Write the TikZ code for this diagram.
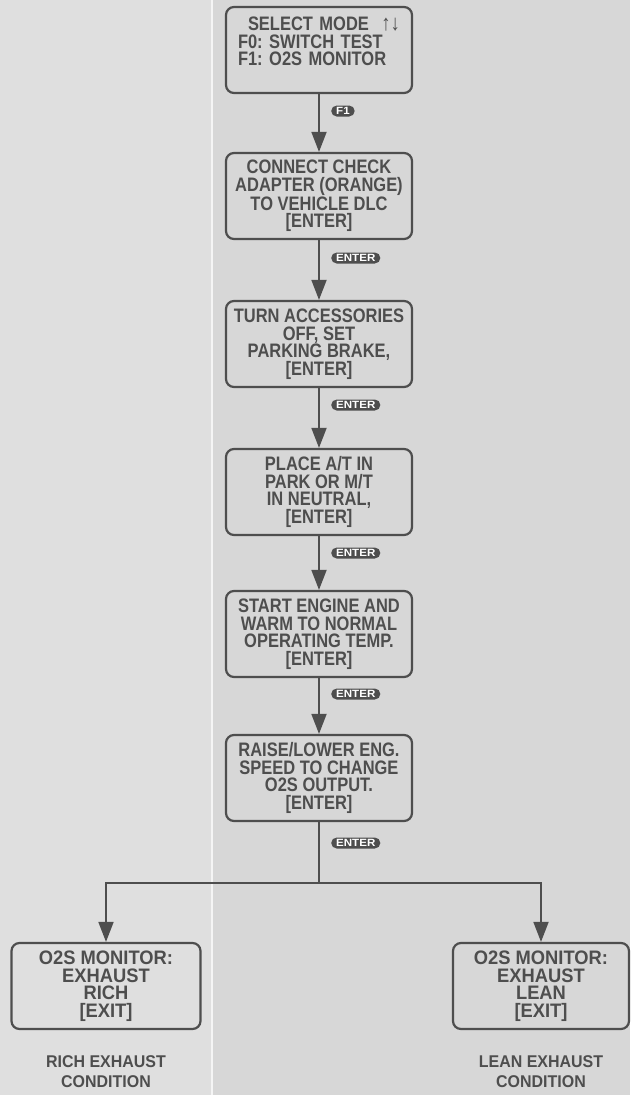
\documentclass[tikz,border=0pt]{standalone}
\usepackage{fontspec}
\setmainfont{Liberation Sans}[FakeStretch=0.845]
\newfontfamily\widefont{Liberation Sans}[FakeStretch=0.94]
\newfontfamily\keyfont{Liberation Sans}[FakeStretch=1.1]
\usepackage{tikz}
\usetikzlibrary{arrows.meta,positioning}
\definecolor{pagegray}{HTML}{D7D7D7}
\definecolor{stripgray}{HTML}{DFDFDF}
\definecolor{inkgray}{HTML}{4E4E4E}
\frenchspacing

\begin{document}
\begin{tikzpicture}[x=1pt,y=-1pt,
	screen/.style={draw=inkgray, line width=2.2pt, rounded corners=8pt,
		minimum width=186pt, minimum height=86pt, inner sep=2pt, align=center,
		text=inkgray, font=\fontsize{19.5}{17.5}\selectfont\bfseries},
	result/.style={screen, minimum width=189pt,
		font=\widefont\fontsize{19.5}{17.5}\selectfont\bfseries},
	keycap/.style={fill=inkgray, text=white, rounded corners=5.5pt,
		minimum height=11pt, minimum width=20pt, inner xsep=5pt, inner ysep=0pt,
		font=\keyfont\fontsize{10.5}{10.5}\selectfont\bfseries, anchor=west},
	link/.style={draw=inkgray, line width=1.8pt},
	flow/.style={link, -{Triangle[length=20pt,width=15pt]}},
	caption/.style={align=center, text=inkgray,
		font=\widefont\fontsize{17}{20}\selectfont\bfseries}]
	\useasboundingbox (0,0) rectangle (630,1095);
	
	% Page background
	\fill[pagegray] (0,0) rectangle (630,1095);
	\fill[stripgray] (0,0) rectangle (211,1095);
	\draw[white!70!stripgray, line width=1.5pt] (212,0) -- (212,1095);
	
	% Screens of the main column
	\node[screen, text width=162pt, align=left, inner xsep=12pt] (mode) at (319,50)
	{\hspace*{10pt}SELECT MODE\hfill{\mdseries\fontsize{22}{17.5}\selectfont ↑↓}\\F0: SWITCH TEST\\F1: O2S MONITOR\\[-6pt]\strut};
	\node[screen] (adapter) at (319,196) {CONNECT CHECK\\ADAPTER (ORANGE)\\TO VEHICLE DLC\\{[ENTER]}};
	\node[screen] (brake) at (319,344) {TURN ACCESSORIES\\OFF, SET\\PARKING BRAKE,\\{[ENTER]}};
	\node[screen] (neutral) at (319,492) {PLACE A/T IN\\PARK OR M/T\\IN NEUTRAL,\\{[ENTER]}};
	\node[screen] (warm) at (319,634) {START ENGINE AND\\WARM TO NORMAL\\OPERATING TEMP.\\{[ENTER]}};
	\node[screen] (speed) at (319,778) {RAISE/LOWER ENG.\\SPEED TO CHANGE\\O2S OUTPUT.\\{[ENTER]}};
	
	% Result screens
	\node[result] (rich) at (106,986) {O2S MONITOR:\\EXHAUST\\RICH\\{[EXIT]}};
	\node[result, minimum width=176pt] (lean) at (541,986) {O2S MONITOR:\\EXHAUST\\LEAN\\{[EXIT]}};
	\node[caption, below=22pt of rich] (richtxt) {RICH EXHAUST\\CONDITION};
	\node[caption, below=22pt of lean] (leantxt) {LEAN EXHAUST\\CONDITION};
	
	% Connectors
	\draw[flow] (mode) -- (adapter);
	\draw[flow] (adapter) -- (brake);
	\draw[flow] (brake) -- (neutral);
	\draw[flow] (neutral) -- (warm);
	\draw[flow] (warm) -- (speed);
	\coordinate (split) at (319,883);
	\draw[link] (speed) -- (split);
	\draw[flow] (split) -| (rich.north);
	\draw[flow] (split) -| (lean.north);
	
	% Key presses
	\node[keycap] (kf1) at (331,111) {F1};
	\node[keycap] (k1) at (331,258) {ENTER};
	\node[keycap] (k2) at (331,405) {ENTER};
	\node[keycap] (k3) at (331,553) {ENTER};
	\node[keycap] (k4) at (331,694) {ENTER};
	\node[keycap] (k5) at (331,843) {ENTER};
\end{tikzpicture}
\end{document}
